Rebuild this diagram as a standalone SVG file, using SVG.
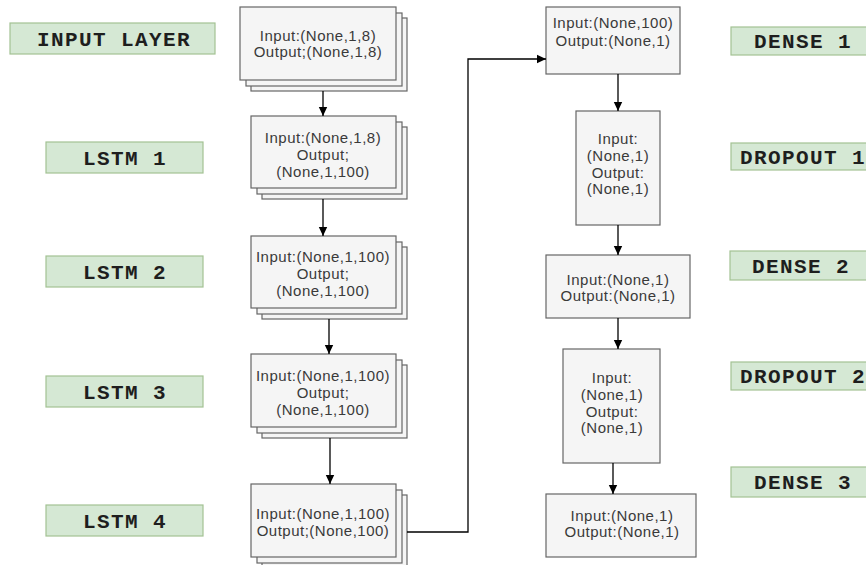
<svg xmlns="http://www.w3.org/2000/svg" width="866" height="565" viewBox="0 0 866 565">
<style>
.lbl rect{fill:#d5e8d4;stroke:#a3c293;stroke-width:1.2}
.lbl text{font-family:"Liberation Mono","Courier New",monospace;font-weight:bold;font-size:21px;letter-spacing:1.4px;fill:#1e1e1e;text-anchor:middle}
.box rect{fill:#f5f5f5;stroke:#666;stroke-width:1.2}
.box text{font-family:"Liberation Sans",Arial,sans-serif;font-size:15px;letter-spacing:0.5px;fill:#3a3a3a;text-anchor:middle}
.conn path{fill:none;stroke:#000;stroke-width:1.3}
</style>
<defs>
<marker id="arr" markerWidth="10" markerHeight="10" refX="9" refY="5" orient="auto" markerUnits="userSpaceOnUse">
<path d="M0,0.8 L9,5 L0,9.2 Z" fill="#000"/>
</marker>
</defs>
<rect width="866" height="565" fill="#fff"/>
<g id="lbl-input" class="lbl"><rect x="10" y="23" width="205" height="31"/><text x="114" y="46">INPUT LAYER</text></g>
<g id="lbl-lstm1" class="lbl"><rect x="46" y="142" width="157" height="31"/><text x="125" y="165">LSTM 1</text></g>
<g id="lbl-lstm2" class="lbl"><rect x="46" y="256" width="157" height="31"/><text x="125" y="279">LSTM 2</text></g>
<g id="lbl-lstm3" class="lbl"><rect x="46" y="376" width="157" height="31"/><text x="125" y="399">LSTM 3</text></g>
<g id="lbl-lstm4" class="lbl"><rect x="46" y="505" width="157" height="31"/><text x="125" y="528">LSTM 4</text></g>
<g id="lbl-dense1" class="lbl"><rect x="731" y="27" width="142" height="28"/><text x="803" y="48">DENSE 1</text></g>
<g id="lbl-dropout1" class="lbl"><rect x="731" y="143" width="142" height="27"/><text x="803" y="164">DROPOUT 1</text></g>
<g id="lbl-dense2" class="lbl"><rect x="730" y="251" width="142" height="29"/><text x="801" y="273">DENSE 2</text></g>
<g id="lbl-dropout2" class="lbl"><rect x="731" y="362" width="142" height="28"/><text x="803" y="383">DROPOUT 2</text></g>
<g id="lbl-dense3" class="lbl"><rect x="731" y="467" width="142" height="30"/><text x="803" y="489">DENSE 3</text></g>

<g id="box-input" class="box">
<rect x="251" y="18" width="156" height="73"/><rect x="246" y="13" width="156" height="73"/><rect x="240" y="7" width="156" height="73"/>
<text x="318" y="41">Input:(None,1,8)</text><text x="318" y="57">Output;(None,1,8)</text>
</g>
<g id="box-lstm1" class="box">
<rect x="262" y="127" width="145" height="72"/><rect x="257" y="122" width="145" height="72"/><rect x="251" y="116" width="145" height="72"/>
<text x="323" y="143">Input:(None,1,8)</text><text x="323" y="160">Output;</text><text x="323" y="177">(None,1,100)</text>
</g>
<g id="box-lstm2" class="box">
<rect x="262" y="247" width="145" height="72"/><rect x="257" y="242" width="145" height="72"/><rect x="251" y="236" width="145" height="72"/>
<text x="323" y="262">Input:(None,1,100)</text><text x="323" y="279">Output;</text><text x="323" y="296">(None,1,100)</text>
</g>
<g id="box-lstm3" class="box">
<rect x="262" y="365" width="145" height="73"/><rect x="257" y="360" width="145" height="73"/><rect x="251" y="354" width="145" height="73"/>
<text x="323" y="381">Input:(None,1,100)</text><text x="323" y="398">Output;</text><text x="323" y="415">(None,1,100)</text>
</g>
<g id="box-lstm4" class="box">
<rect x="262" y="495" width="145" height="73"/><rect x="257" y="490" width="145" height="73"/><rect x="251" y="484" width="145" height="73"/>
<text x="323" y="519">Input:(None,1,100)</text><text x="323" y="536">Output;(None,100)</text>
</g>
<g id="box-dense1" class="box">
<rect x="546" y="7" width="134" height="67"/>
<text x="613" y="28">Input:(None,100)</text><text x="613" y="46">Output:(None,1)</text>
</g>
<g id="box-dropout1" class="box">
<rect x="576" y="111" width="84" height="114"/>
<text x="618" y="144">Input:</text><text x="618" y="161">(None,1)</text><text x="618" y="178">Output:</text><text x="618" y="194">(None,1)</text>
</g>
<g id="box-dense2" class="box">
<rect x="546" y="255" width="144" height="63"/>
<text x="618" y="285">Input:(None,1)</text><text x="618" y="301">Output:(None,1)</text>
</g>
<g id="box-dropout2" class="box">
<rect x="563" y="349" width="97" height="114"/>
<text x="612" y="383">Input:</text><text x="612" y="400">(None,1)</text><text x="612" y="417">Output:</text><text x="612" y="433">(None,1)</text>
</g>
<g id="box-dense3" class="box">
<rect x="546" y="494" width="150" height="63"/>
<text x="622" y="521">Input:(None,1)</text><text x="622" y="537">Output:(None,1)</text>
</g>

<g id="connectors" class="conn">
<path d="M323,91 V116" marker-end="url(#arr)"/>
<path d="M323,199 V236" marker-end="url(#arr)"/>
<path d="M329,319 V354" marker-end="url(#arr)"/>
<path d="M330,438 V484" marker-end="url(#arr)"/>
<path d="M407,532 H468 V59 H546" marker-end="url(#arr)"/>
<path d="M618,74 V111" marker-end="url(#arr)"/>
<path d="M618,225 V255" marker-end="url(#arr)"/>
<path d="M618,318 V349" marker-end="url(#arr)"/>
<path d="M613,463 V494" marker-end="url(#arr)"/>
</g>
</svg>
